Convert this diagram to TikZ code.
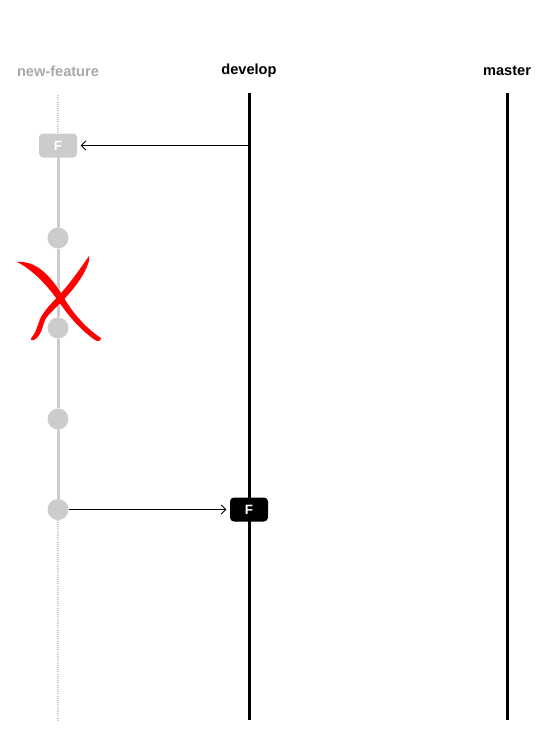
\documentclass[tikz,border=0pt]{standalone}
\usepackage{fontspec}
\setmainfont{Liberation Sans}
\usetikzlibrary{arrows.meta}
\definecolor{lg}{HTML}{CCCCCC}
\definecolor{lbl}{HTML}{A8A8A8}
\begin{document}
\begin{tikzpicture}[x=1pt,y=-1pt,
  branchlabel/.style={font=\bfseries\fontsize{14.6}{17}\selectfont},
  mainline/.style={line width=3pt,black},
  featline/.style={line width=3pt,lg},
  featdots/.style={line width=2pt,lg,dash pattern=on 1pt off 1.2pt},
  commit/.style={circle,fill=lg,minimum size=21pt,inner sep=0pt},
  fbox/.style={rounded corners=4pt,minimum width=38pt,minimum height=24pt,inner sep=0pt,font=\bfseries\fontsize{13.5}{15}\selectfont,text=white},
  link/.style={line width=0.8pt,black,shorten >=3.5pt,-{Straight Barb[length=4.5pt,width=9pt,line width=0.8pt]}}
]
\useasboundingbox (0,0) rectangle (550,750);
% labels
\node[branchlabel,text=lbl] (lnf) at (58,71) {new-feature};
\node[branchlabel] (ldev) at (249,71) {develop};
\node[branchlabel] (lmas) at (507,71) {master};
% coordinates
\coordinate (nftop) at (58,95);
\coordinate (nfbot) at (58,720);
\coordinate (devtop) at (249,93);
\coordinate (devbot) at (249,720);
\coordinate (mastop) at (507,93);
\coordinate (masbot) at (507,720);
% main lines
\draw[mainline] (devtop) -- (devbot);
\draw[mainline] (mastop) -- (masbot);
% feature branch
\draw[featdots] (nftop) -- (nfbot);
\node[fbox,fill=lg] (f1) at (58,145.5) {F};
\node[commit] (c1) at (58,238) {};
\node[commit] (c2) at (58,328) {};
\node[commit] (c3) at (58,419) {};
\node[commit] (c4) at (58,509.5) {};
\draw[featline] (f1.south) -- (c1.north);
\draw[featline] (c1.south) -- (c2.north);
\draw[featline] (c2.south) -- (c3.north);
\draw[featline] (c3.south) -- (c4.north);
\node[fbox,fill=black] (f2) at (249,509.5) {F};
\coordinate (devsplit) at (f1.east -| devtop);
% connectors
\draw[link] (devsplit) -- (f1.east);
\draw[link] (c4.east) -- (f2.west);
% red cross
\fill[red] (17,262) .. controls (40,260) and (55,283) .. (64,298)
  .. controls (76,318) and (90,331) .. (101,338)
  .. controls (101,341) and (98,342) .. (95,340)
  .. controls (82,331) and (70,318) .. (59,302)
  .. controls (47,285) and (33,270) .. (17,262) -- cycle;
\fill[red] (89,256) .. controls (91,262) and (82,280) .. (66,297)
  .. controls (56,308) and (48,314) .. (45,320)
  .. controls (42,327) and (42,335) .. (34,340)
  .. controls (31,341) and (30,339) .. (32,337)
  .. controls (38,330) and (38,320) .. (43,314)
  .. controls (48,306) and (55,300) .. (62,292)
  .. controls (74,278) and (82,266) .. (89,256) -- cycle;
\end{tikzpicture}
\end{document}
